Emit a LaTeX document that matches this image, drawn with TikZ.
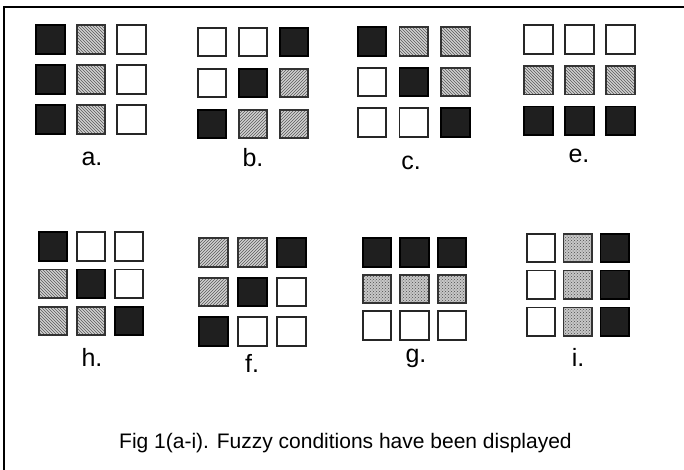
\documentclass[tikz,border=0pt]{standalone}
\usepackage{fontspec}
\setmainfont{Liberation Sans}
\usetikzlibrary{patterns}

\begin{document}
\begin{tikzpicture}[x=1pt,y=-1pt,
	sq/.style={rectangle, minimum size=28.5pt, inner sep=0pt, line width=1.7pt},
	blk/.style={sq, draw=black, fill=black!88},
	wht/.style={sq, draw=black!85, fill=white},
	hl/.style={sq, draw=black!80, preaction={fill=black!18}, pattern=north west lines, pattern color=black!65},
	hr/.style={sq, draw=black!80, preaction={fill=black!18}, pattern=north east lines, pattern color=black!65},
	dt/.style={sq, draw=black!80, preaction={fill=black!22}, pattern=crosshatch dots, pattern color=black!70},
	lbl/.style={anchor=base, inner sep=0pt, font=\fontsize{25}{30}\selectfont},
	]
	\useasboundingbox (0,0) rectangle (684,470);
	%Frame
	\draw[line width=1.5pt] (4,470) -- (4,7) -- (684,7);
	%Top row of grids
	\foreach \s [count=\k from 0] in {blk,hl,wht,blk,hl,wht,blk,hl,wht}
		\node[\s] (a\k) at ({50.5+40.5*mod(\k,3)},{39.5+40*int(\k/3)}) {};
	\foreach \s [count=\k from 0] in {wht,wht,blk,wht,blk,hr,blk,hr,hr}
		\node[\s] (b\k) at ({212+41*mod(\k,3)},{42+41*int(\k/3)}) {};
	\foreach \s [count=\k from 0] in {blk,hl,hl,wht,blk,hl,wht,wht,blk}
		\node[\s] (c\k) at ({372+41.7*mod(\k,3)},{41.5+40.5*int(\k/3)}) {};
	\foreach \s [count=\k from 0] in {wht,wht,wht,hl,hl,hl,blk,blk,blk}
		\node[\s] (e\k) at ({538.5+41*mod(\k,3)},{39.5+40.7*int(\k/3)}) {};
	%Bottom row of grids
	\foreach \s [count=\k from 0] in {blk,wht,wht,hl,blk,wht,hl,hl,blk}
		\node[\s] (h\k) at ({53+38*mod(\k,3)},{246.5+37.2*int(\k/3)}) {};
	\foreach \s [count=\k from 0] in {hr,hr,blk,hr,blk,wht,blk,wht,wht}
		\node[\s] (f\k) at ({213.5+39*mod(\k,3)},{252.5+39.5*int(\k/3)}) {};
	\foreach \s [count=\k from 0] in {blk,blk,blk,dt,dt,dt,wht,wht,wht}
		\node[\s] (g\k) at ({377+37.5*mod(\k,3)},{252.5+36.5*int(\k/3)}) {};
	\foreach \s [count=\k from 0] in {wht,dt,blk,wht,dt,blk,wht,dt,blk}
		\node[\s] (i\k) at ({541+36.8*mod(\k,3)},{248+36.8*int(\k/3)}) {};
	%Labels
	\node[lbl] (la) at (92,166) {a.};
	\node[lbl] (lb) at (253,167) {b.};
	\node[lbl] (lc) at (411,170) {c.};
	\node[lbl] (le) at (579,163) {e.};
	\node[lbl] (lh) at (92,366) {h.};
	\node[lbl] (lf) at (252,372) {f.};
	\node[lbl] (lg) at (416,362) {g.};
	\node[lbl] (li) at (578,366) {i.};
	\node[anchor=base, inner sep=0pt, font=\fontsize{21}{25}\selectfont] (caption) at (345.5,448) {Fig 1(a-i). Fuzzy conditions have been displayed};
\end{tikzpicture}
\end{document}
